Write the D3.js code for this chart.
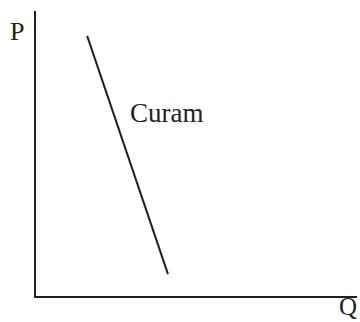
<!DOCTYPE html>
<html>
<head>
<meta charset="utf-8">
<script src="https://cdn.jsdelivr.net/npm/d3@7"></script>
<style>
  html, body { margin: 0; padding: 0; background: #fff; }
  svg { display: block; }
</style>
</head>
<body>
<div id="chart"></div>
<script>
// demand curve for Curam (quantity, price) in arbitrary units
const curveName = 'Curam';
const curveQ = [1.62, 4.13];
const curveP = [9.13, 0.80];
const axisLabels = { x: 'Q', y: 'P' };

const W = 360, H = 322;
const margin = { top: 11, right: 3, bottom: 25, left: 35 };
const ink = '#231f20';

const svg = d3.select('#chart').append('svg')
  .attr('width', W).attr('height', H);

const x = d3.scaleLinear().domain([0, 10]).range([margin.left, W - margin.right]);
const y = d3.scaleLinear().domain([0, 10]).range([H - margin.bottom, margin.top]);

// axes: plain L shape, no ticks
svg.append('path')
  .attr('d', `M${x(0)},${y(10)}V${y(0)}H${x(10)}`)
  .attr('fill', 'none')
  .attr('stroke', ink)
  .attr('stroke-width', 2);

const pts = curveQ.map((q, i) => [q, curveP[i]]);
const line = d3.line().x(d => x(d[0])).y(d => y(d[1]));

svg.append('path')
  .datum(pts)
  .attr('d', line)
  .attr('fill', 'none')
  .attr('stroke', ink)
  .attr('stroke-width', 2);

const font = '"Liberation Serif", "Times New Roman", serif';

svg.append('text')
  .attr('x', 130).attr('y', 122)
  .attr('font-family', font).attr('font-size', 27)
  .attr('fill', ink)
  .text(curveName);

svg.append('text')
  .attr('x', 10).attr('y', 40)
  .attr('font-family', font).attr('font-size', 26)
  .attr('fill', ink)
  .text(axisLabels.y);

svg.append('text')
  .attr('x', 339).attr('y', 315)
  .attr('font-family', font).attr('font-size', 25)
  .attr('fill', ink)
  .text(axisLabels.x);
</script>
</body>
</html>
